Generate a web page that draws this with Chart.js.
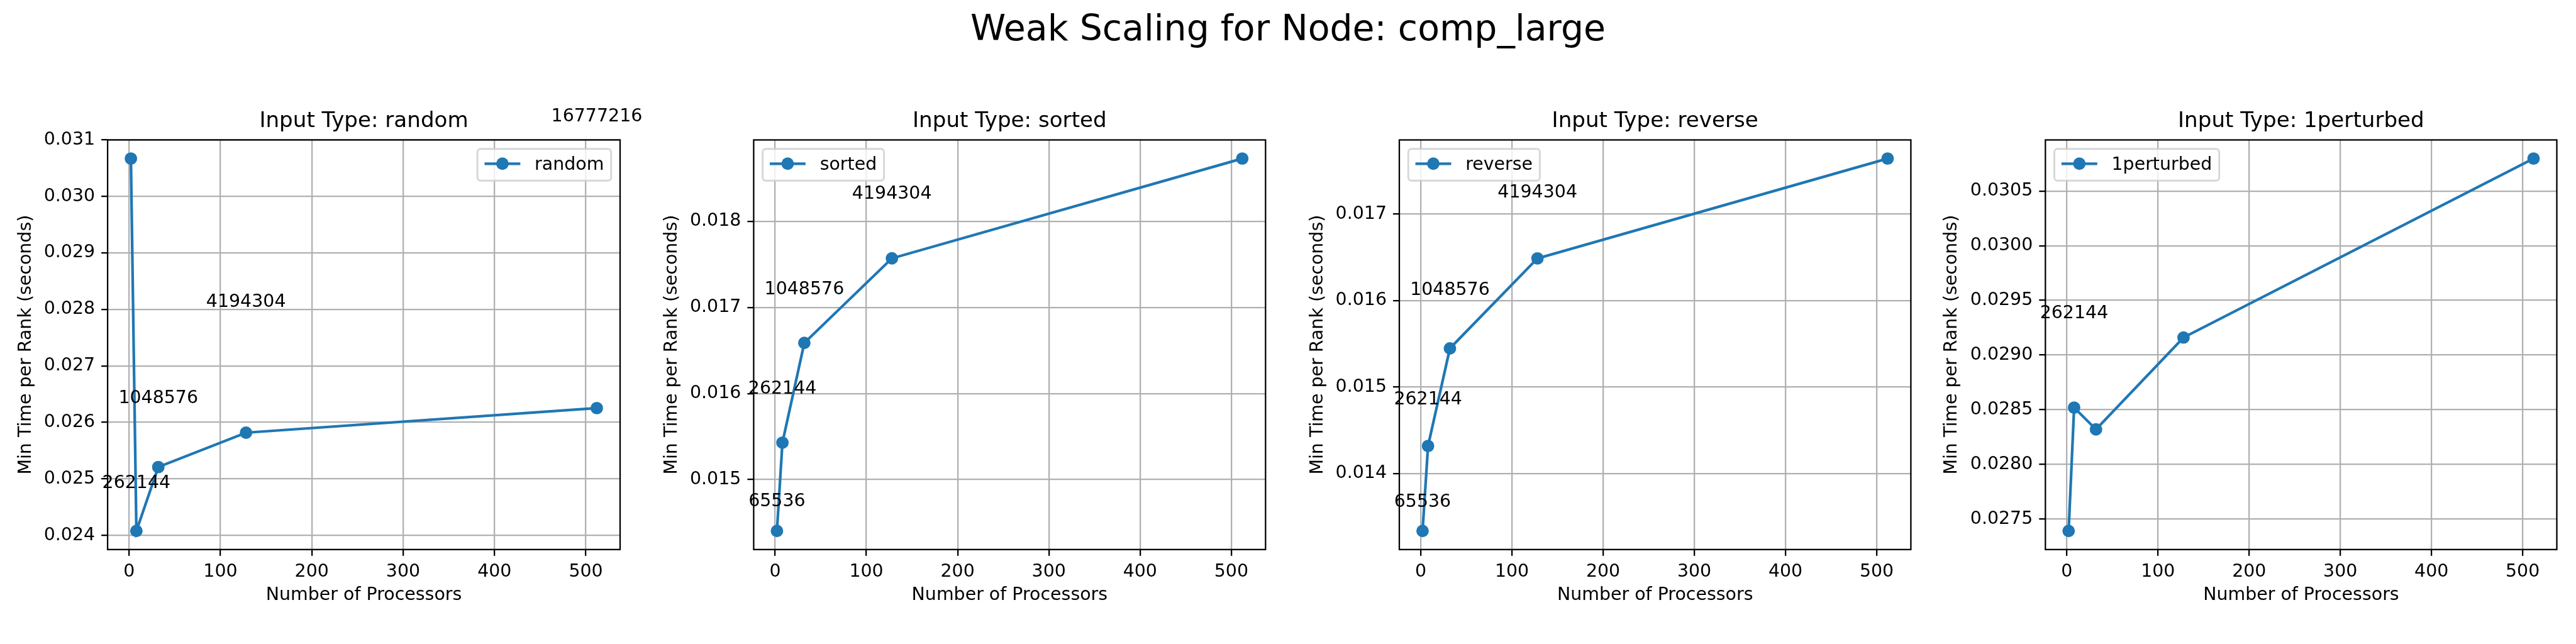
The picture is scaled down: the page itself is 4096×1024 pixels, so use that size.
<!DOCTYPE html>
<html>
<head>
<meta charset="utf-8">
<title>Weak Scaling for Node: comp_large</title>
<script src="https://cdn.jsdelivr.net/npm/chart.js@4.4.0/dist/chart.umd.min.js"></script>
<style>
  html, body { margin: 0; padding: 0; background: #fff; }
  #wrap { position: relative; width: 4096px; height: 1024px; overflow: hidden; }
  #wrap canvas { position: absolute; left: 0; top: 0; }
</style>
</head>
<body>
<div id="wrap">
  <canvas id="c0" width="4096" height="1024"></canvas>
  <canvas id="c1" width="4096" height="1024"></canvas>
  <canvas id="c2" width="4096" height="1024"></canvas>
  <canvas id="c3" width="4096" height="1024"></canvas>
</div>
<script>
// ---- data ----
const processors = [2, 8, 32, 128, 512];

const randomTimes    = [0.030668, 0.02408, 0.02521, 0.025818, 0.026253];
const sortedTimes    = [0.014403, 0.015429, 0.016588, 0.017571, 0.018731];
const reverseTimes   = [0.013336, 0.014318, 0.015446, 0.016486, 0.01764];
const perturbedTimes = [0.027391, 0.028519, 0.02832, 0.02916, 0.030797];

const xTickLabels = ['0', '100', '200', '300', '400', '500'];
const randomYTicks = ['0.024', '0.025', '0.026', '0.027', '0.028', '0.029', '0.030', '0.031'];
const sortedYTicks = ['0.015', '0.016', '0.017', '0.018'];
const reverseYTicks = ['0.014', '0.015', '0.016', '0.017'];
const perturbedYTicks = ['0.0275', '0.0280', '0.0285', '0.0290', '0.0295', '0.0300', '0.0305'];

// input-size labels that are visible in the figure
const randomSizeLabels = ['262144', '1048576', '4194304', '16777216'];
const randomSizeX = [8, 32, 128, 512];
const randomSizeY = [0.024834, 0.026339, 0.028038, 0.031331];
const sortedSizeLabels = ['65536', '262144', '1048576', '4194304'];
const sortedSizeX = [2, 8, 32, 128];
const sortedSizeY = [0.014689, 0.016, 0.017151, 0.018261];
const reverseSizeLabels = ['65536', '262144', '1048576', '4194304'];
const reverseSizeX = [2, 8, 32, 128];
const reverseSizeY = [0.013611, 0.014802, 0.01606, 0.017193];
const perturbedSizeLabels = ['262144'];
const perturbedSizeX = [8];
const perturbedSizeY = [0.029335];

// ---- layout (px in the 4096x1024 page) ----
const FIG_W = 4096, FIG_H = 1024;
const PANEL_LEFT = [171.1, 1198.4, 2225.0, 3252.3];
const PANEL_RIGHT = [986.0, 2012.3, 3038.4, 4065.5];
const PANEL_TOP = 222.5, PANEL_BOTTOM = 873.8;
const YTITLE_MID = [41.5, 1069.0, 2095.8, 3103.8];

const FONT = "'DejaVu Sans', sans-serif";
const TICK_FS = 28.44, TITLE_FS = 34.13, SUP_FS = 56.9;
const BLUE = '#1f77b4';
const LINE_W = 4.27, MARKER_R = 8.53, GRID_W = 2.28, TICK_LEN = 10;

Chart.defaults.font.family = FONT;
Chart.defaults.color = '#000';

const panelExtras = {
  id: 'panelExtras',
  afterDatasetsDraw(chart) {
    const { ctx, chartArea: a } = chart;
    ctx.save();
    ctx.strokeStyle = '#000';
    ctx.lineWidth = GRID_W;
    ctx.strokeRect(a.left, a.top, a.right - a.left, a.bottom - a.top);
    ctx.restore();
  },
  afterDraw(chart, args, o) {
    const { ctx, chartArea: a, scales } = chart;
    ctx.save();
    // input size labels
    ctx.font = TICK_FS + 'px ' + FONT;
    ctx.fillStyle = '#000';
    ctx.textAlign = 'center';
    ctx.textBaseline = 'alphabetic';
    o.labels.forEach((t, k) => {
      ctx.fillText(t, scales.x.getPixelForValue(o.labelX[k]), scales.y.getPixelForValue(o.labelY[k]));
    });

    // legend box
    const pad = 0.4 * TICK_FS, handle = 2 * TICK_FS, gap = 0.8 * TICK_FS, off = 0.5 * TICK_FS;
    const tw = ctx.measureText(o.legendText).width;
    const w = 2 * pad + handle + gap + tw, h = 50.5;
    const x0 = o.legendSide === 'right' ? a.right - off - w : a.left + off;
    const y0 = a.top + off;
    ctx.beginPath();
    ctx.roundRect(x0, y0, w, h, 5);
    ctx.fillStyle = 'rgba(255,255,255,0.8)';
    ctx.fill();
    ctx.strokeStyle = 'rgba(204,204,204,0.8)';
    ctx.lineWidth = 2.84;
    ctx.stroke();
    const cy = y0 + h / 2 - 1.7;
    ctx.strokeStyle = BLUE;
    ctx.lineWidth = LINE_W;
    ctx.beginPath();
    ctx.moveTo(x0 + pad, cy);
    ctx.lineTo(x0 + pad + handle, cy);
    ctx.stroke();
    ctx.fillStyle = BLUE;
    ctx.beginPath();
    ctx.arc(x0 + pad + handle / 2, cy, MARKER_R + 1.4, 0, 2 * Math.PI);
    ctx.fill();
    ctx.fillStyle = '#000';
    ctx.textAlign = 'left';
    ctx.fillText(o.legendText, x0 + pad + handle + gap, y0 + h / 2 + 8.5);

    if (o.suptitle) {
      ctx.font = SUP_FS + 'px ' + FONT;
      ctx.textAlign = 'center';
      ctx.fillText(o.suptitle, FIG_W / 2, 64.2);
    }
    ctx.restore();
  }
};

function makePanel(i, name, times, yTicks, sizeLabels, sizeX, sizeY, legendSide, suptitle) {
  const xVals = xTickLabels.map(Number);
  const yVals = yTicks.map(Number);
  const lo = Math.min(...times), hi = Math.max(...times);
  const yPad = (hi - lo) * 0.05;
  const xPad = (processors[processors.length - 1] - processors[0]) * 0.05;
  const scaleLeft = YTITLE_MID[i] - TICK_FS * 0.6;
  const tickFont = { size: TICK_FS, family: FONT };

  return new Chart(document.getElementById('c' + i), {
    type: 'line',
    data: {
      datasets: [{
        label: name,
        data: processors.map((p, k) => ({ x: p, y: times[k] })),
        borderColor: BLUE,
        backgroundColor: BLUE,
        borderWidth: LINE_W,
        pointRadius: MARKER_R,
        pointBorderWidth: 2.84,
        pointBorderColor: BLUE,
        pointBackgroundColor: BLUE,
        pointHoverRadius: MARKER_R,
        tension: 0,
        fill: false
      }]
    },
    options: {
      responsive: false,
      animation: false,
      devicePixelRatio: 1,
      events: [],
      layout: { padding: { left: scaleLeft, right: FIG_W - PANEL_RIGHT[i], top: 173.1, bottom: 0 } },
      scales: {
        x: {
          type: 'linear',
          bounds: 'data',
          min: processors[0] - xPad,
          max: processors[processors.length - 1] + xPad,
          afterBuildTicks: s => { s.ticks = xVals.map(v => ({ value: v })); },
          afterFit: s => { s.height = FIG_H - PANEL_BOTTOM; },
          ticks: { callback: (v, k) => xTickLabels[k], font: tickFont, color: '#000', padding: 9, maxRotation: 0, minRotation: 0, autoSkip: false },
          grid: { color: '#b0b0b0', lineWidth: GRID_W, tickColor: '#000', tickWidth: GRID_W, tickLength: TICK_LEN },
          border: { display: false },
          title: { display: true, text: 'Number of Processors', font: tickFont, color: '#000', padding: { top: 0, bottom: 60.4 } }
        },
        y: {
          type: 'linear',
          bounds: 'data',
          min: lo - yPad,
          max: hi + yPad,
          afterBuildTicks: s => { s.ticks = yVals.map(v => ({ value: v })); },
          afterFit: s => { s.width = PANEL_LEFT[i] - scaleLeft; },
          ticks: { callback: (v, k) => yTicks[k], font: tickFont, color: '#000', padding: 10, autoSkip: false },
          grid: { color: '#b0b0b0', lineWidth: GRID_W, tickColor: '#000', tickWidth: GRID_W, tickLength: TICK_LEN },
          border: { display: false },
          title: { display: true, text: 'Min Time per Rank (seconds)', font: tickFont, color: '#000', padding: { top: 0, bottom: 0 } }
        }
      },
      plugins: {
        legend: { display: false },
        tooltip: { enabled: false },
        title: {
          display: true,
          fullSize: false,
          text: 'Input Type: ' + name,
          color: '#000',
          font: { size: TITLE_FS, family: FONT, weight: 'normal' },
          padding: { top: 0, bottom: 8.44 }
        },
        panelExtras: { labels: sizeLabels, labelX: sizeX, labelY: sizeY, legendText: name, legendSide: legendSide, suptitle: suptitle }
      }
    },
    plugins: [panelExtras]
  });
}

makePanel(0, 'random', randomTimes, randomYTicks, randomSizeLabels, randomSizeX, randomSizeY, 'right', 'Weak Scaling for Node: comp_large');
makePanel(1, 'sorted', sortedTimes, sortedYTicks, sortedSizeLabels, sortedSizeX, sortedSizeY, 'left', null);
makePanel(2, 'reverse', reverseTimes, reverseYTicks, reverseSizeLabels, reverseSizeX, reverseSizeY, 'left', null);
makePanel(3, '1perturbed', perturbedTimes, perturbedYTicks, perturbedSizeLabels, perturbedSizeX, perturbedSizeY, 'left', null);
</script>
</body>
</html>
